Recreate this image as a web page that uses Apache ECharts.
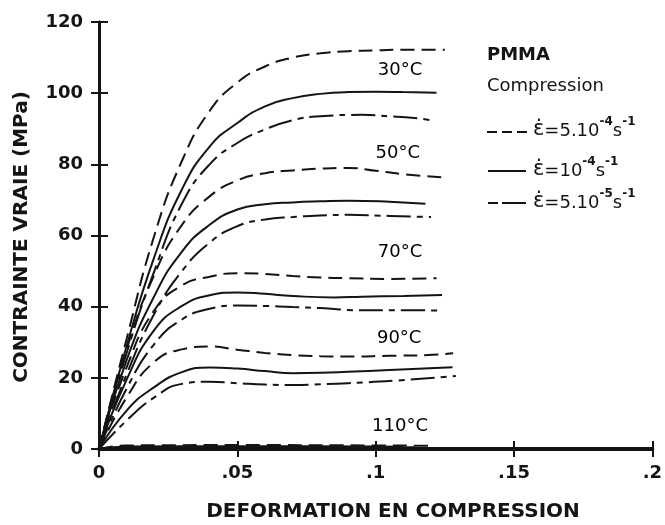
<!DOCTYPE html>
<html><head><meta charset="utf-8">
<script src="https://cdn.jsdelivr.net/npm/echarts@6/dist/echarts.min.js"></script>
<style>html,body{margin:0;padding:0;background:#fff}#c{width:665px;height:525px}</style>
</head><body><div id="c"></div>
<script>
// ---- data (strain, true stress MPa) ----
const xTicks = [0, 0.05, 0.1, 0.15, 0.2];
const yTicks = [0, 20, 40, 60, 80, 100, 120];
const temps = ['30°C', '50°C', '70°C', '90°C', '110°C'];

const t30_fast = [[0,0],[0.01,31],[0.02,60],[0.03,81],[0.04,95],[0.05,103],[0.06,107.5],[0.07,110],[0.08,111.2],[0.09,111.8],[0.1,112],[0.11,112.2],[0.125,112.2]];
const t30_mid  = [[0,0],[0.01,29],[0.02,54],[0.03,73],[0.04,85],[0.05,91.6],[0.06,96.3],[0.07,98.6],[0.08,99.8],[0.09,100.3],[0.1,100.4],[0.11,100.3],[0.122,100.1]];
const t30_slow = [[0,0],[0.01,27],[0.02,50],[0.03,69],[0.04,80],[0.05,86],[0.06,89.8],[0.07,92.4],[0.08,93.5],[0.095,93.9],[0.105,93.5],[0.114,93],[0.121,92.3]];

const t50_fast = [[0,0],[0.01,28],[0.02,49],[0.03,63],[0.04,71],[0.05,75.5],[0.06,77.5],[0.07,78.3],[0.08,78.8],[0.09,79],[0.1,78.2],[0.113,77],[0.125,76.3]];
const t50_mid  = [[0,0],[0.01,25],[0.02,43],[0.03,55.5],[0.04,63],[0.05,67.3],[0.06,68.8],[0.07,69.3],[0.08,69.6],[0.09,69.8],[0.105,69.5],[0.118,68.9]];
const t50_slow = [[0,0],[0.01,21],[0.02,38],[0.03,50],[0.04,58],[0.05,62.6],[0.06,64.5],[0.07,65.2],[0.08,65.6],[0.09,65.8],[0.105,65.5],[0.12,65.2]];

const t70_fast = [[0,0],[0.01,23],[0.02,39],[0.03,46],[0.04,48.4],[0.05,49.4],[0.06,49.2],[0.07,48.6],[0.08,48.2],[0.09,48],[0.105,47.8],[0.122,48]];
const t70_mid  = [[0,0],[0.01,19.5],[0.02,33.5],[0.03,40.2],[0.04,43.2],[0.05,44],[0.06,43.6],[0.07,43],[0.085,42.6],[0.095,42.8],[0.11,43],[0.124,43.3]];
const t70_slow = [[0,0],[0.01,17],[0.02,29.5],[0.03,36.4],[0.04,39.4],[0.05,40.3],[0.06,40.2],[0.07,39.9],[0.08,39.6],[0.094,39],[0.11,39],[0.123,38.9]];

const t90_fast = [[0,0],[0.01,14.5],[0.02,24.5],[0.03,28],[0.04,28.8],[0.05,27.9],[0.06,27],[0.07,26.4],[0.08,26.1],[0.09,26],[0.105,26.2],[0.119,26.4],[0.128,26.9]];
const t90_mid  = [[0,0],[0.01,10.8],[0.02,17.4],[0.03,21.6],[0.04,22.9],[0.05,22.6],[0.06,21.9],[0.07,21.3],[0.08,21.4],[0.09,21.7],[0.105,22.2],[0.1278,23]];
const t90_slow = [[0,0],[0.01,8],[0.02,14.5],[0.03,18.3],[0.04,18.9],[0.05,18.5],[0.06,18.1],[0.07,18],[0.08,18.2],[0.09,18.5],[0.107,19.2],[0.129,20.5]];

const t110_fast = [[0,0],[0.01,1],[0.05,1.1],[0.1,1],[0.12,0.9]];
const t110_mid  = [[0,0],[0.01,0.7],[0.05,0.8],[0.1,0.7],[0.11,0.6]];
const t110_slow = [[0,0],[0.01,0.4],[0.05,0.5],[0.1,0.5],[0.114,0.5]];

// temperature label anchors (data coordinates)
const labelAnchors = [[0.1088,106.5],[0.108,83.2],[0.1088,55.4],[0.1085,31.2],[0.1088,6.5]];

// ---- styles ----
const DASH = [14, 7];
const DASHDOT = [24, 6, 6, 6];
const INK = '#141414';
const FONT = 'DejaVu Sans';

function curve(data, dash) {
  return {
    type: 'line', data: data, showSymbol: false, symbol: 'none',
    smooth: 0.5, silent: true, animation: false,
    lineStyle: { color: INK, width: 2, type: dash || 'solid' }
  };
}

const series = [
  curve(t30_fast, DASH), curve(t30_mid), curve(t30_slow, DASHDOT),
  curve(t50_fast, DASH), curve(t50_mid), curve(t50_slow, DASHDOT),
  curve(t70_fast, DASH), curve(t70_mid), curve(t70_slow, DASHDOT),
  curve(t90_fast, DASH), curve(t90_mid), curve(t90_slow, DASHDOT),
  curve(t110_fast, DASH), curve(t110_mid), curve(t110_slow, DASHDOT),
  {
    type: 'scatter', symbolSize: 1, silent: true, animation: false,
    itemStyle: { opacity: 0 },
    data: labelAnchors.map((p, i) => ({ value: p, name: temps[i] })),
    label: { show: true, position: 'inside', formatter: p => p.name, opacity: 1,
      fontFamily: FONT, fontSize: 18, color: '#000' }
  }
];

const fmtX = v => v === 0 ? '0' : String(+v.toFixed(2)).replace(/^0/, '');
const rich = {
  n: { fontFamily: FONT, fontSize: 18, color: INK, verticalAlign: 'bottom', lineHeight: 24 },
  e: { fontFamily: FONT, fontSize: 21, color: INK, verticalAlign: 'bottom', lineHeight: 24 },
  s: { fontFamily: FONT, fontSize: 12, fontWeight: 'bold', color: INK, verticalAlign: 'top', lineHeight: 24 }
};

const chart = echarts.init(document.getElementById('c'), null, { renderer: 'canvas' });
chart.setOption({
  backgroundColor: '#fff',
  animation: false,
  grid: { left: 99, right: 9, top: 22, bottom: 76 },
  xAxis: [
    { type: 'value', min: xTicks[0], max: xTicks[xTicks.length - 1], interval: 0.05, position: 'bottom',
      axisLine: { lineStyle: { color: INK, width: 4 } },
      axisTick: { inside: true, length: 8, lineStyle: { color: INK, width: 2 } },
      splitLine: { show: false },
      axisLabel: { formatter: fmtX, fontFamily: FONT, fontWeight: 'bold', fontSize: 18, color: INK, margin: 15 } },
    { type: 'value', min: xTicks[0], max: xTicks[xTicks.length - 1], interval: 0.05, position: 'top',
      axisLine: { lineStyle: { color: INK, width: 2.5 } },
      axisTick: { inside: true, length: 8, lineStyle: { color: INK, width: 2 } },
      splitLine: { show: false }, axisLabel: { show: false } }
  ],
  yAxis: [
    { type: 'value', min: yTicks[0], max: yTicks[yTicks.length - 1], interval: 20, position: 'left',
      axisLine: { show: true, lineStyle: { color: INK, width: 3 } },
      axisTick: { show: true, inside: true, length: 9, lineStyle: { color: INK, width: 2 } },
      splitLine: { show: false },
      axisLabel: { fontFamily: FONT, fontWeight: 'bold', fontSize: 18, color: INK, margin: 16 } },
    { type: 'value', min: yTicks[0], max: yTicks[yTicks.length - 1], interval: 20, position: 'right',
      axisLine: { show: true, lineStyle: { color: INK, width: 2.5 } },
      axisTick: { show: true, inside: true, length: 8, lineStyle: { color: INK, width: 2 } },
      splitLine: { show: false }, axisLabel: { show: false } }
  ],
  series: series,
  graphic: [
    { type: 'text', x: 393, y: 512, silent: true,
      style: { text: 'DEFORMATION EN COMPRESSION', font: 'bold 20px "DejaVu Sans"', fill: INK,
        textAlign: 'center', textVerticalAlign: 'middle' } },
    { type: 'text', x: 22, y: 237, rotation: Math.PI / 2, silent: true,
      style: { text: 'CONTRAINTE VRAIE (MPa)', font: 'bold 20px "DejaVu Sans"', fill: INK,
        textAlign: 'center', textVerticalAlign: 'middle' } },
    { type: 'text', x: 487, y: 55, silent: true,
      style: { text: 'PMMA', font: 'bold 18px "DejaVu Sans"', fill: INK, textVerticalAlign: 'middle' } },
    { type: 'text', x: 487, y: 86, silent: true,
      style: { text: 'Compression', font: '18px "DejaVu Sans"', fill: INK, textVerticalAlign: 'middle' } },
    { type: 'line', silent: true, shape: { x1: 487, y1: 132, x2: 528, y2: 132 },
      style: { stroke: INK, lineWidth: 2, lineDash: [10, 5] } },
    { type: 'line', silent: true, shape: { x1: 488, y1: 171, x2: 526, y2: 171 },
      style: { stroke: INK, lineWidth: 2 } },
    { type: 'line', silent: true, shape: { x1: 488, y1: 203, x2: 526, y2: 203 },
      style: { stroke: INK, lineWidth: 2, lineDash: [10, 4, 24, 4] } },
    { type: 'text', x: 533, y: 128, silent: true,
      style: { text: '{e|ε̇}{n|=5.10}{s|-4}{n|s}{s|-1}', textVerticalAlign: 'middle', fill: INK, rich: rich } },
    { type: 'text', x: 533, y: 168, silent: true,
      style: { text: '{e|ε̇}{n|=10}{s|-4}{n|s}{s|-1}', textVerticalAlign: 'middle', fill: INK, rich: rich } },
    { type: 'text', x: 533, y: 200, silent: true,
      style: { text: '{e|ε̇}{n|=5.10}{s|-5}{n|s}{s|-1}', textVerticalAlign: 'middle', fill: INK, rich: rich } }
  ]
});
</script></body></html>
